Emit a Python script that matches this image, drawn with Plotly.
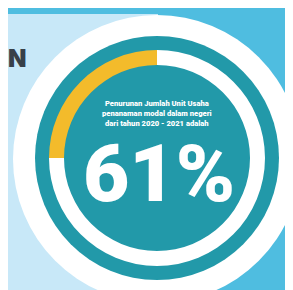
import plotly.graph_objects as go

# Data
arc_labels = ["Penurunan", "Sisa"]
arc_values = [25, 75]
arc_colors = ["#f3bb2b", "#ffffff"]
headline = "61%"
caption_lines = ["Penurunan Jumlah Unit Usaha",
                 "penanaman modal dalam negeri",
                 "dari tahun 2020 - 2021 adalah"]
side_text = "N"

W, H = 293, 290
CX, CY = 149, 150
R_WHITE, R_TEAL, R_RING = 144, 122, 108
HOLE = 93 / 108

TEAL = "#2299a9"
PALE = "#c8e8f8"
MID = "#4fbde0"

fig = go.Figure()
fig.add_trace(go.Pie(
    labels=arc_labels, values=arc_values, sort=False, direction="clockwise",
    rotation=-90, hole=HOLE, marker=dict(colors=arc_colors, line=dict(width=0)),
    textinfo="none", hoverinfo="skip", showlegend=False,
    domain=dict(x=[(CX - R_RING) / W, (CX + R_RING) / W],
                y=[(H - CY - R_RING) / H, (H - CY + R_RING) / H]),
))

shapes = [
    dict(type="rect", xref="x", yref="y", x0=0, x1=W, y0=0, y1=H, fillcolor=MID, line_width=0, layer="below"),
    dict(type="rect", xref="x", yref="y", x0=0, x1=150, y0=6, y1=H, fillcolor=PALE, line_width=0, layer="below"),
    dict(type="circle", xref="x", yref="y", x0=CX - R_WHITE, x1=CX + R_WHITE, y0=CY + 1 - R_WHITE, y1=CY + 1 + R_WHITE,
         fillcolor="#ffffff", line_width=0, layer="below"),
    dict(type="circle", xref="x", yref="y", x0=CX - R_TEAL, x1=CX + R_TEAL, y0=CY - R_TEAL, y1=CY + R_TEAL,
         fillcolor=TEAL, line_width=0, layer="below"),
]

annotations = [
    dict(x=CX, y=105.5, xref="x", yref="y", text="<br>".join(caption_lines), showarrow=False,
         font=dict(family="Roboto", size=7.6, color="#ffffff", weight=900),
         xanchor="center", yanchor="middle", align="center", borderpad=0),
    dict(x=151, y=166, xref="x", yref="y", text=headline, showarrow=False,
         font=dict(family="Roboto", size=80, color="#ffffff", weight=900),
         xanchor="center", yanchor="middle", borderpad=0),
    dict(x=19.5, y=50, xref="x", yref="y", text=side_text, showarrow=False,
         font=dict(family="Inter", size=24, color="#384049", weight=900),
         xanchor="right", yanchor="middle"),
]

fig.update_layout(
    width=W, height=H, margin=dict(l=0, r=0, t=0, b=0),
    paper_bgcolor=MID, plot_bgcolor=MID,
    xaxis=dict(range=[0, W], visible=False, fixedrange=True),
    yaxis=dict(range=[H, 0], visible=False, fixedrange=True),
    shapes=shapes, annotations=annotations,
)

fig.write_html("out.html")
